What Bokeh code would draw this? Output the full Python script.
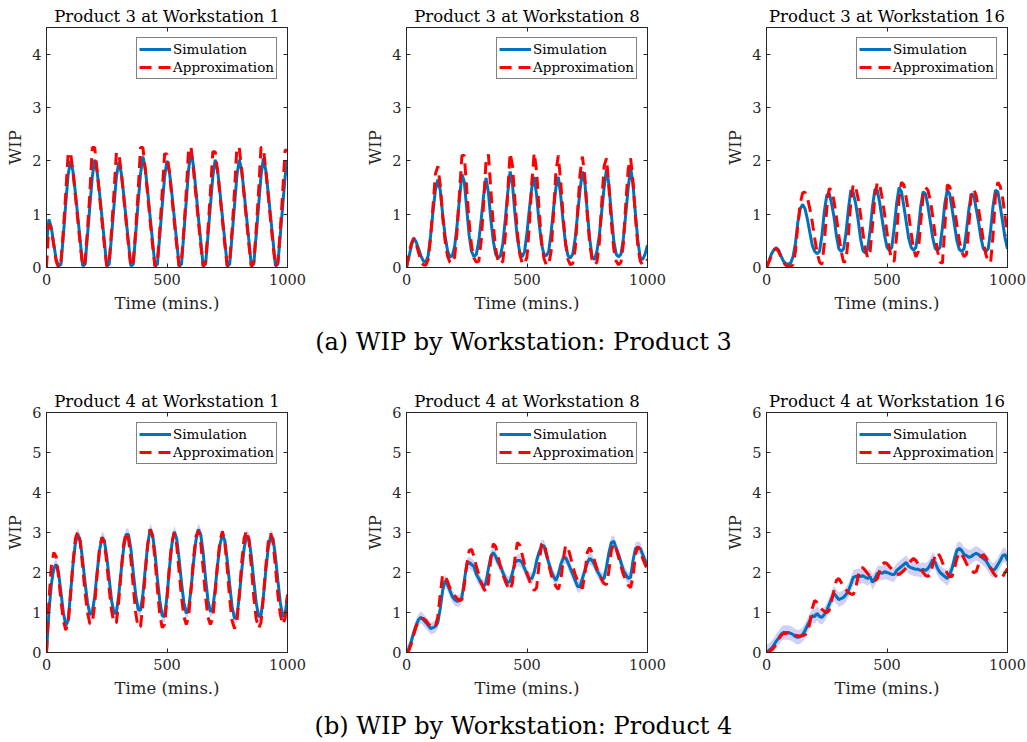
from bokeh.plotting import figure
from bokeh.models import Range1d, LinearAxis, Legend, LegendItem, Div, FixedTicker
from bokeh.layouts import column, row
from bokeh.embed import file_html
from bokeh.resources import INLINE

# ---------------- data ----------------
time_min = list(range(0, 1001, 10))
x_ticks = [0, 500, 1000]
y_ticks_p3 = [0, 1, 2, 3, 4]
y_ticks_p4 = [0, 1, 2, 3, 4, 5, 6]

titles_p3 = ["Product 3 at Workstation 1", "Product 3 at Workstation 8", "Product 3 at Workstation 16"]
titles_p4 = ["Product 4 at Workstation 1", "Product 4 at Workstation 8", "Product 4 at Workstation 16"]
caption_a = "(a) WIP by Workstation: Product 3"
caption_b = "(b) WIP by Workstation: Product 4"

p3_ws1_sim = [0.45, 0.9, 0.75, 0.45, 0.15, 0.03, 0.06, 0.6, 1.2, 1.75,
              2.0, 1.8, 1.4, 0.95, 0.5, 0.03, 0.06, 0.6, 1.15, 1.7,
              2.02, 1.8, 1.4, 0.95, 0.5, 0.03, 0.06, 0.6, 1.15, 1.7,
              1.98, 1.78, 1.38, 0.92, 0.48, 0.03, 0.06, 0.62, 1.2, 1.75,
              2.08, 1.85, 1.42, 0.95, 0.5, 0.03, 0.06, 0.6, 1.15, 1.7,
              2.0, 1.8, 1.4, 0.95, 0.5, 0.03, 0.06, 0.65, 1.25, 1.85,
              2.18, 1.9, 1.45, 0.95, 0.5, 0.03, 0.06, 0.6, 1.15, 1.7,
              2.02, 1.82, 1.4, 0.95, 0.5, 0.03, 0.06, 0.6, 1.15, 1.72,
              2.02, 1.82, 1.4, 0.95, 0.5, 0.03, 0.06, 0.6, 1.15, 1.72,
              2.05, 1.82, 1.4, 0.95, 0.5, 0.03, 0.06, 0.6, 1.15, 1.7,
              2.0]
p3_ws1_app = [0.0, 0.82, 0.72, 0.42, 0.12, 0.0, 0.12, 0.7, 1.4, 2.15,
              2.15, 1.8, 1.35, 0.88, 0.42, 0.02, 0.1, 0.7, 1.4, 2.25,
              2.25, 1.82, 1.35, 0.88, 0.42, 0.02, 0.1, 0.7, 1.4, 2.15,
              2.15, 1.8, 1.35, 0.88, 0.42, 0.02, 0.1, 0.7, 1.4, 2.25,
              2.25, 1.82, 1.35, 0.88, 0.42, 0.02, 0.1, 0.7, 1.4, 2.13,
              2.13, 1.78, 1.33, 0.86, 0.42, 0.02, 0.12, 0.72, 1.42, 2.25,
              2.25, 1.82, 1.35, 0.88, 0.42, 0.02, 0.1, 0.7, 1.4, 2.17,
              2.17, 1.8, 1.35, 0.88, 0.42, 0.02, 0.1, 0.7, 1.42, 2.25,
              2.25, 1.82, 1.35, 0.88, 0.42, 0.02, 0.1, 0.7, 1.42, 2.25,
              2.25, 1.82, 1.35, 0.88, 0.42, 0.02, 0.1, 0.7, 1.4, 2.2,
              2.2]

p3_ws8_sim = [0.0, 0.2, 0.4, 0.55, 0.48, 0.35, 0.22, 0.12, 0.1, 0.22,
              0.6, 1.05, 1.45, 1.65, 1.45, 1.0, 0.6, 0.32, 0.2, 0.22,
              0.4, 0.8, 1.3, 1.75, 1.6, 1.1, 0.6, 0.3, 0.2, 0.25,
              0.5, 0.9, 1.35, 1.68, 1.4, 0.9, 0.5, 0.25, 0.18, 0.22,
              0.45, 0.9, 1.4, 1.8, 1.55, 1.0, 0.55, 0.28, 0.2, 0.3,
              0.65, 1.1, 1.5, 1.7, 1.35, 0.85, 0.45, 0.25, 0.22, 0.3,
              0.65, 1.1, 1.5, 1.7, 1.35, 0.85, 0.45, 0.22, 0.18, 0.25,
              0.55, 1.0, 1.45, 1.8, 1.6, 1.05, 0.55, 0.2, 0.15, 0.3,
              0.6, 1.05, 1.5, 1.85, 1.55, 1.0, 0.5, 0.25, 0.2, 0.25,
              0.55, 1.0, 1.5, 1.87, 1.55, 1.0, 0.5, 0.18, 0.15, 0.25,
              0.42]
p3_ws8_app = [0.0, 0.25, 0.45, 0.55, 0.45, 0.28, 0.12, 0.05, 0.04, 0.15,
              0.55, 1.15, 1.75, 1.9, 1.55, 0.95, 0.5, 0.22, 0.1, 0.08,
              0.2, 0.7, 1.4, 2.1, 2.1, 1.45, 0.85, 0.4, 0.18, 0.1,
              0.12, 0.5, 1.2, 2.0, 2.12, 1.45, 0.8, 0.35, 0.12, 0.06,
              0.12, 0.6, 1.4, 2.15, 1.9, 1.25, 0.65, 0.25, 0.08, 0.06,
              0.2, 0.8, 1.6, 2.15, 1.8, 1.1, 0.5, 0.18, 0.05, 0.05,
              0.3, 1.0, 1.8, 2.1, 1.6, 0.95, 0.45, 0.15, 0.05, 0.08,
              0.35, 1.05, 1.75, 2.08, 1.7, 1.0, 0.45, 0.15, 0.05, 0.1,
              0.45, 1.2, 1.9, 2.05, 1.5, 0.85, 0.35, 0.12, 0.05, 0.1,
              0.45, 1.2, 1.85, 2.05, 1.6, 0.95, 0.4, 0.12, 0.05, 0.06,
              0.15]

p3_ws16_sim = [0.0, 0.12, 0.25, 0.33, 0.37, 0.33, 0.22, 0.12, 0.07, 0.06,
               0.08, 0.2, 0.45, 0.85, 1.1, 1.18, 1.1, 0.9, 0.65, 0.42,
               0.3, 0.26, 0.3, 0.6, 1.05, 1.35, 1.4, 1.2, 0.95, 0.6,
               0.35, 0.3, 0.35, 0.65, 1.1, 1.45, 1.4, 1.2, 0.9, 0.55,
               0.32, 0.27, 0.35, 0.7, 1.15, 1.47, 1.45, 1.2, 0.9, 0.6,
               0.38, 0.32, 0.38, 0.75, 1.2, 1.5, 1.42, 1.15, 0.85, 0.55,
               0.38, 0.32, 0.38, 0.7, 1.15, 1.42, 1.38, 1.15, 0.85, 0.55,
               0.36, 0.32, 0.38, 0.75, 1.2, 1.45, 1.38, 1.1, 0.8, 0.5,
               0.34, 0.3, 0.35, 0.7, 1.1, 1.38, 1.35, 1.1, 0.85, 0.55,
               0.35, 0.3, 0.35, 0.7, 1.15, 1.45, 1.42, 1.15, 0.85, 0.55,
               0.35]
p3_ws16_app = [0.0, 0.1, 0.22, 0.32, 0.36, 0.3, 0.2, 0.1, 0.04, 0.02,
               0.02, 0.05, 0.3, 0.8, 1.2, 1.4, 1.41, 1.3, 1.1, 0.85,
               0.55, 0.28, 0.1, 0.06, 0.45, 1.1, 1.48, 1.45, 1.25, 0.95,
               0.6, 0.3, 0.1, 0.12, 0.6, 1.25, 1.56, 1.5, 1.3, 1.0,
               0.65, 0.35, 0.18, 0.3, 0.8, 1.35, 1.6, 1.55, 1.3, 1.0,
               0.65, 0.35, 0.12, 0.12, 0.6, 1.3, 1.6, 1.55, 1.3, 1.0,
               0.65, 0.35, 0.2, 0.3, 0.85, 1.35, 1.5, 1.45, 1.25, 0.95,
               0.6, 0.3, 0.1, 0.08, 0.75, 1.55, 1.52, 1.35, 1.1, 0.8,
               0.5, 0.3, 0.2, 0.25, 0.8, 1.4, 1.47, 1.35, 1.1, 0.8,
               0.5, 0.25, 0.1, 0.1, 0.6, 1.35, 1.6, 1.52, 1.3, 0.95,
               0.6]

p4_ws1_sim = [0.0, 1.0, 1.7, 2.1, 2.2, 2.0, 1.5, 1.0, 0.68, 0.8,
              1.5, 2.2, 2.75, 2.95, 2.8, 2.3, 1.75, 1.25, 0.95, 1.0,
              1.4, 2.0, 2.55, 2.88, 2.8, 2.4, 1.85, 1.3, 0.98, 1.0,
              1.45, 2.05, 2.6, 2.95, 2.95, 2.6, 2.0, 1.45, 1.08, 1.05,
              1.45, 2.1, 2.7, 3.08, 2.95, 2.5, 1.85, 1.3, 0.92, 0.9,
              1.4, 2.1, 2.7, 3.02, 2.85, 2.35, 1.75, 1.25, 0.98, 1.1,
              1.6, 2.25, 2.8, 3.08, 2.95, 2.5, 1.85, 1.3, 1.02, 1.1,
              1.6, 2.2, 2.7, 2.95, 2.8, 2.3, 1.7, 1.15, 0.85, 0.9,
              1.4, 2.05, 2.6, 2.92, 2.85, 2.4, 1.8, 1.25, 0.9, 0.92,
              1.4, 2.05, 2.6, 2.92, 2.85, 2.4, 1.8, 1.25, 0.9, 0.95,
              1.4]
p4_ws1_app = [0.0, 1.3, 2.15, 2.5, 2.4, 1.9, 1.3, 0.8, 0.56, 0.75,
              1.45, 2.25, 2.85, 3.03, 2.75, 2.15, 1.5, 1.0, 0.72, 0.72,
              1.2, 1.95, 2.6, 2.88, 2.75, 2.25, 1.6, 1.05, 0.72, 0.75,
              1.3, 2.05, 2.7, 3.0, 2.85, 2.35, 1.65, 1.0, 0.62, 0.65,
              1.2, 2.0, 2.7, 3.08, 2.9, 2.35, 1.6, 0.95, 0.62, 0.7,
              1.35, 2.15, 2.75, 3.0, 2.7, 2.05, 1.4, 0.9, 0.7, 0.9,
              1.6, 2.35, 2.9, 3.05, 2.75, 2.1, 1.4, 0.88, 0.7, 0.85,
              1.5, 2.25, 2.8, 3.03, 2.75, 2.1, 1.35, 0.8, 0.6, 0.75,
              1.45, 2.25, 2.85, 3.05, 2.8, 2.15, 1.4, 0.85, 0.6, 0.75,
              1.4, 2.15, 2.75, 2.98, 2.75, 2.15, 1.45, 0.95, 0.7, 0.85,
              1.45]

p4_ws8_sim = [0.0, 0.1, 0.28, 0.5, 0.68, 0.82, 0.88, 0.82, 0.75, 0.68,
              0.6, 0.62, 0.65, 0.75, 1.1, 1.55, 1.8, 1.7, 1.55, 1.4,
              1.32, 1.28, 1.3, 1.38, 1.8, 2.2, 2.25, 2.2, 2.15, 1.95,
              1.85, 1.72, 1.65, 1.75, 2.1, 2.4, 2.5, 2.4, 2.25, 2.15,
              2.0, 1.85, 1.75, 1.78, 2.0, 2.25, 2.3, 2.3, 2.25, 2.1,
              1.95, 1.85, 1.85, 2.0, 2.3, 2.5, 2.65, 2.68, 2.45, 2.25,
              2.05, 1.9, 1.8, 1.95, 2.2, 2.35, 2.38, 2.25, 2.1, 1.95,
              1.8, 1.65, 1.65, 1.85, 2.05, 2.25, 2.35, 2.3, 2.2, 2.05,
              1.95, 1.85, 1.85, 2.15, 2.5, 2.75, 2.78, 2.6, 2.45, 2.25,
              2.05, 1.95, 1.85, 1.88, 2.3, 2.6, 2.63, 2.6, 2.45, 2.3,
              2.15]
p4_ws8_app = [0.0, 0.05, 0.22, 0.45, 0.65, 0.78, 0.85, 0.85, 0.8, 0.72,
              0.66, 0.62, 0.65, 0.9, 1.45, 1.95, 1.92, 1.78, 1.62, 1.5,
              1.42, 1.35, 1.3, 1.32, 1.7, 2.2, 2.55, 2.58, 2.4, 2.15,
              1.95, 1.75, 1.6, 1.52, 1.75, 2.35, 2.72, 2.65, 2.4, 2.15,
              1.95, 1.78, 1.65, 1.56, 1.75, 2.35, 2.75, 2.68, 2.45, 2.2,
              1.98, 1.8, 1.65, 1.55, 1.62, 2.2, 2.7, 2.75, 2.5, 2.2,
              1.95, 1.78, 1.65, 1.58, 1.8, 2.3, 2.68, 2.62, 2.4, 2.15,
              1.95, 1.8, 1.68, 1.6, 1.95, 2.5, 2.62, 2.5, 2.3, 2.1,
              1.95, 1.82, 1.72, 1.7, 2.05, 2.55, 2.72, 2.6, 2.38, 2.15,
              1.95, 1.8, 1.68, 1.62, 1.9, 2.45, 2.65, 2.55, 2.35, 2.2,
              2.08]

p4_ws16_sim = [0.0, 0.05, 0.1, 0.18, 0.28, 0.36, 0.45, 0.5, 0.5, 0.5,
               0.48, 0.45, 0.4, 0.38, 0.4, 0.45, 0.55, 0.68, 0.8, 0.92,
               0.9, 0.98, 0.9, 0.88, 0.95, 1.05, 1.2, 1.35, 1.48, 1.4,
               1.32, 1.35, 1.38, 1.45, 1.55, 1.7, 1.88, 1.9, 1.92, 1.9,
               1.92, 1.88, 1.85, 1.9, 1.75, 1.85, 1.98, 2.0, 1.98, 2.02,
               2.0, 1.98, 1.95, 1.95, 2.05, 2.1, 2.15, 2.2, 2.25, 2.15,
               2.12, 2.1, 2.08, 2.08, 2.05, 2.08, 2.05, 2.1, 2.2, 2.32,
               2.25, 2.1, 2.0, 1.95, 1.9, 1.85, 1.95, 2.1, 2.35, 2.55,
               2.6, 2.55, 2.45, 2.42, 2.38, 2.4, 2.45, 2.48, 2.45, 2.4,
               2.35, 2.3, 2.2, 2.1, 2.05, 2.1, 2.2, 2.3, 2.42, 2.45,
               2.3]
p4_ws16_app = [0.0, 0.02, 0.06, 0.12, 0.2, 0.32, 0.42, 0.47, 0.48, 0.48,
               0.47, 0.45, 0.43, 0.42, 0.41, 0.42, 0.44, 0.5, 0.75, 1.1,
               1.3, 1.25, 1.15, 1.08, 1.03, 1.0, 1.05, 1.3, 1.55, 1.8,
               1.85, 1.75, 1.65, 1.57, 1.5, 1.46, 1.45, 1.6, 1.9, 2.12,
               2.12, 2.05, 1.97, 1.9, 1.84, 1.8, 1.85, 2.05, 2.2, 2.25,
               2.22, 2.15, 2.08, 2.02, 1.97, 1.95, 2.0, 2.05, 2.12, 2.2,
               2.3, 2.35, 2.3, 2.2, 2.1, 2.0, 1.93, 1.9, 1.95, 2.2,
               2.45, 2.5, 2.4, 2.25, 2.1, 1.98, 1.9, 1.9, 2.1, 2.35,
               2.5, 2.45, 2.35, 2.22, 2.12, 2.05, 2.0, 2.02, 2.2, 2.38,
               2.45, 2.38, 2.25, 2.12, 2.0, 1.92, 1.87, 1.85, 1.9, 2.0,
               2.1]

# half-width of the simulation confidence band
band_p3 = [0.04, 0.04, 0.04]
band_p4 = [0.15, 0.15, 0.18]

sims_p3 = [p3_ws1_sim, p3_ws8_sim, p3_ws16_sim]
apps_p3 = [p3_ws1_app, p3_ws8_app, p3_ws16_app]
sims_p4 = [p4_ws1_sim, p4_ws8_sim, p4_ws16_sim]
apps_p4 = [p4_ws1_app, p4_ws8_app, p4_ws16_app]
for s in sims_p3 + apps_p3 + sims_p4 + apps_p4:
    assert len(s) == len(time_min), len(s)

# ---------------- styling ----------------
FONT = "DejaVu Serif"
AX = "#262626"
BLUE = "#0072BD"
RED = "#FF0000"
BAND = "#c4c4f6"


def style_axis(ax, ticks):
    ax.ticker = FixedTicker(ticks=ticks)
    ax.major_tick_in = 4
    ax.major_tick_out = 0
    ax.minor_tick_line_color = None
    ax.axis_line_color = AX
    ax.major_tick_line_color = AX
    ax.major_label_text_font = FONT
    ax.major_label_text_font_size = "14.5px"
    ax.major_label_text_color = AX
    ax.axis_label_text_font = FONT
    ax.axis_label_text_font_size = "16.5px"
    ax.axis_label_text_font_style = "normal"
    ax.axis_label_text_color = AX


def make_panel(title, sim, app, hw, ymax, yticks, right_border):
    p = figure(frame_width=241, frame_height=240,
               x_range=Range1d(0, 1000), y_range=Range1d(0, ymax),
               output_backend="svg", toolbar_location=None,
               min_border_left=46, min_border_right=right_border,
               min_border_top=27, min_border_bottom=50)
    p.title.text = title
    p.title.align = "center"
    p.title.text_font = FONT
    p.title.text_font_size = "16.5px"
    p.title.text_font_style = "normal"
    p.title.text_color = "black"
    p.title.standoff = 4
    p.xgrid.visible = False
    p.ygrid.visible = False
    p.outline_line_color = AX
    p.outline_line_alpha = 1.0
    p.background_fill_color = "white"
    p.border_fill_color = "white"

    style_axis(p.xaxis[0], x_ticks)
    style_axis(p.yaxis[0], yticks)
    p.xaxis[0].axis_label = "Time (mins.)"
    p.yaxis[0].axis_label = "WIP"
    p.xaxis[0].major_label_standoff = 6
    p.xaxis[0].axis_label_standoff = 6
    p.yaxis[0].major_label_standoff = 5
    p.yaxis[0].axis_label_standoff = 4

    # box ticks on the top and right edges (no labels drawn)
    for side, ticks in (("above", x_ticks), ("right", yticks)):
        ax = LinearAxis()
        style_axis(ax, ticks)
        ax.major_label_text_font_size = "1px"
        ax.major_label_text_color = None
        ax.major_label_standoff = 0
        p.add_layout(ax, side)

    lower = [v - hw for v in sim]
    upper = [v + hw for v in sim]
    p.varea(x=time_min, y1=lower, y2=upper, fill_color=BAND, fill_alpha=0.8)
    r_sim = p.line(time_min, sim, line_color=BLUE, line_width=3)
    r_app = p.line(time_min, app, line_color=RED, line_width=3, line_dash="12 7")

    leg = Legend(items=[LegendItem(label="Simulation", renderers=[r_sim]),
                        LegendItem(label="Approximation", renderers=[r_app])],
                 location="top_right", margin=10, padding=2, spacing=0,
                 glyph_width=32, glyph_height=18, label_height=18, label_standoff=2,
                 label_text_font=FONT, label_text_font_size="13.5px",
                 label_text_color="black",
                 border_line_color="black", border_line_width=1,
                 background_fill_color="white", background_fill_alpha=1.0)
    p.add_layout(leg)
    return p


rights = [73, 73, 20]

row_a = [make_panel(titles_p3[i], sims_p3[i], apps_p3[i], band_p3[i], 4.5, y_ticks_p3, rights[i])
         for i in range(3)]
row_b = [make_panel(titles_p4[i], sims_p4[i], apps_p4[i], band_p4[i], 6, y_ticks_p4, rights[i])
         for i in range(3)]


def caption(text, height, pad_top):
    html = ('<div style="display:block;box-sizing:border-box;width:1027px;'
            'font-family:\'DejaVu Serif\';font-size:24px;color:black;'
            'text-align:center;padding-left:20px;padding-top:%dpx;line-height:29px;'
            'white-space:nowrap;">%s</div>' % (pad_top, text))
    return Div(text=html, width=1027, height=height, margin=(0, 0, 0, 0))


layout = column(row(*row_a), caption(caption_a, 68, 11),
                row(*row_b), caption(caption_b, 38, 10))

open("out.html", "w").write(file_html(layout, INLINE))
